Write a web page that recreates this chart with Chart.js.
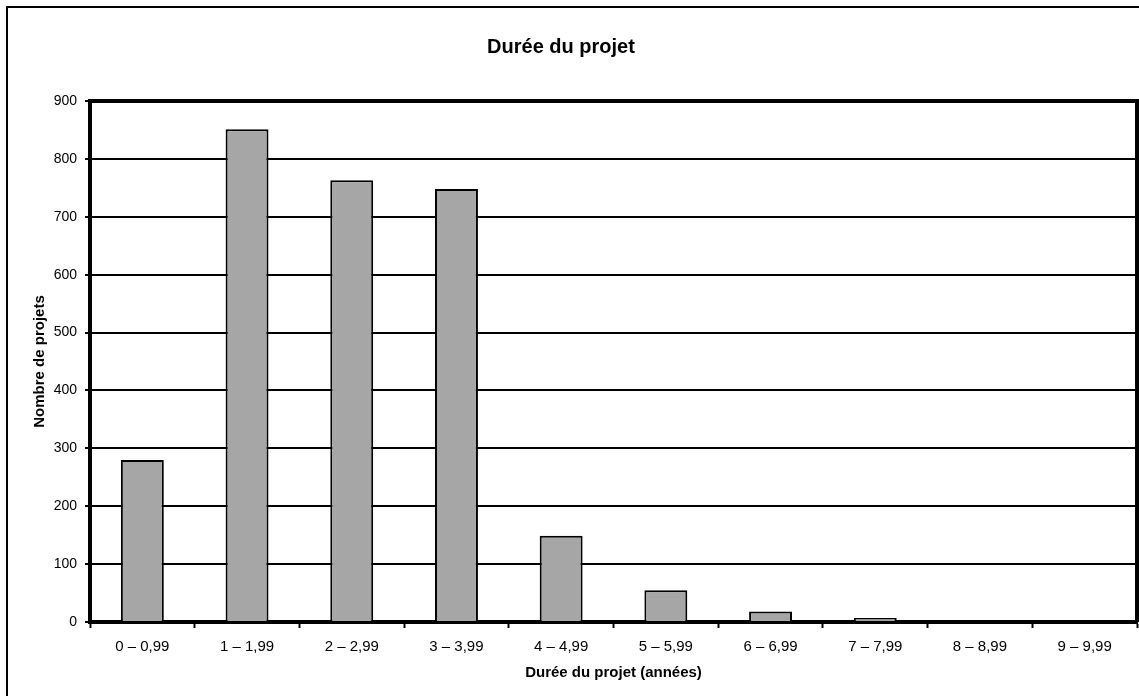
<!DOCTYPE html>
<html lang="fr">
<head>
<meta charset="utf-8">
<title>Durée du projet</title>
<script src="https://cdn.jsdelivr.net/npm/chart.js@4.4.1/dist/chart.umd.min.js"></script>
<style>
  html, body { margin: 0; padding: 0; background: #ffffff; }
  #wrap { width: 1139px; height: 696px; }
</style>
</head>
<body>
<div id="wrap"><canvas id="chart" width="1139" height="696"></canvas></div>
<script>
// Durée des projets, par tranche d'une année
const categories = ['0 – 0,99', '1 – 1,99', '2 – 2,99', '3 – 3,99', '4 – 4,99',
                    '5 – 5,99', '6 – 6,99', '7 – 7,99', '8 – 8,99', '9 – 9,99'];
const projectCounts = [280, 851, 763, 748, 149, 55, 18, 7, 0, 0];
const yTicks = [0, 100, 200, 300, 400, 500, 600, 700, 800, 900];

const chartTitle = 'Durée du projet';
const xTitle = 'Durée du projet (années)';
const yTitle = 'Nombre de projets';

const FONT = '"Liberation Sans", Arial, Helvetica, sans-serif';

// White page, outer frame and the chart title
const frame = {
  id: 'frame',
  beforeDraw(chart) {
    const ctx = chart.ctx;
    ctx.save();
    ctx.fillStyle = '#ffffff';
    ctx.fillRect(0, 0, chart.width, chart.height);
    ctx.strokeStyle = '#000000';
    ctx.lineWidth = 2;
    ctx.beginPath();
    ctx.moveTo(7, chart.height);
    ctx.lineTo(7, 7);
    ctx.lineTo(chart.width, 7);
    ctx.stroke();
    ctx.fillStyle = '#000000';
    ctx.font = 'bold 20px ' + FONT;
    ctx.textAlign = 'center';
    ctx.textBaseline = 'middle';
    ctx.fillText(chartTitle, 561, 47);
    ctx.restore();
  },
  afterDatasetsDraw(chart) {
    const {ctx, chartArea: a} = chart;
    ctx.save();
    ctx.strokeStyle = '#000000';
    ctx.lineWidth = 4;
    ctx.beginPath();
    ctx.moveTo(a.left, a.top);
    ctx.lineTo(a.right, a.top);
    ctx.lineTo(a.right, a.bottom);
    ctx.stroke();
    ctx.restore();
  }
};

new Chart(document.getElementById('chart'), {
  type: 'bar',
  data: {
    labels: categories,
    datasets: [{
      data: projectCounts,
      backgroundColor: '#a6a6a6',
      borderColor: '#000000',
      borderWidth: 2,
      categoryPercentage: 1,
      barPercentage: 0.41
    }]
  },
  options: {
    responsive: false,
    animation: false,
    layout: { padding: { top: 101, right: 2, bottom: 0, left: 0 } },
    plugins: {
      legend: { display: false },
      title: { display: false },
      tooltip: { enabled: false }
    },
    scales: {
      x: {
        afterFit(scale) { scale.height = 74; },
        grid: {
          offset: true,
          drawOnChartArea: false,
          drawTicks: true,
          tickLength: 6,
          tickWidth: 2,
          tickColor: '#000000'
        },
        border: { display: true, color: '#000000', width: 4 },
        ticks: {
          color: '#000000',
          font: { family: FONT, size: 15 },
          padding: 10,
          maxRotation: 0,
          autoSkip: false
        },
        title: {
          display: true,
          text: xTitle,
          color: '#000000',
          font: { family: FONT, size: 15, weight: 'bold' },
          padding: { top: 4, bottom: 14 }
        }
      },
      y: {
        min: 0,
        max: 900,
        afterFit(scale) { scale.width = 90; },
        afterBuildTicks(scale) { scale.ticks = yTicks.map(v => ({ value: v })); },
        grid: {
          color: '#000000',
          lineWidth: ctx => (ctx.tick && ctx.tick.value === 900 ? 4 : 2),
          drawTicks: true,
          tickLength: 5,
          tickWidth: 2,
          tickColor: '#000000'
        },
        border: { display: true, color: '#000000', width: 4 },
        ticks: {
          color: '#000000',
          font: { family: FONT, size: 14 },
          padding: 8
        },
        title: {
          display: true,
          text: yTitle,
          color: '#000000',
          font: { family: FONT, size: 15, weight: 'bold' },
          padding: { top: 31, bottom: 4 }
        }
      }
    }
  },
  plugins: [frame]
});
</script>
</body>
</html>
